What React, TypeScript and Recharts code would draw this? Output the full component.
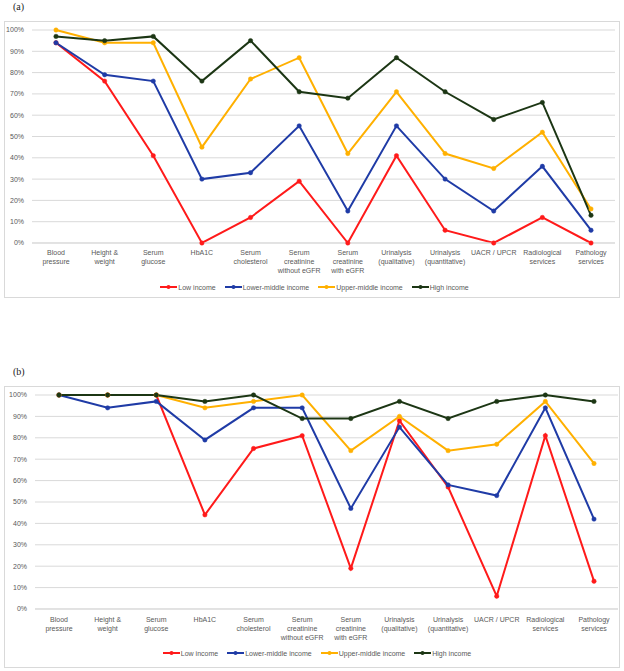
import React from "react";
import { LineChart, Line, XAxis, YAxis, CartesianGrid, Legend } from "recharts";

// Tick labels of the x axis, one array of lines per category
const categoryLines: string[][] = [
  ["Blood", "pressure"],
  ["Height &", "weight"],
  ["Serum", "glucose"],
  ["HbA1C"],
  ["Serum", "cholesterol"],
  ["Serum", "creatinine", "without eGFR"],
  ["Serum", "creatinine", "with eGFR"],
  ["Urinalysis", "(qualitative)"],
  ["Urinalysis", "(quantitative)"],
  ["UACR / UPCR"],
  ["Radiological", "services"],
  ["Pathology", "services"],
];
const categories = categoryLines.map((l) => l.join(" "));

const yTicks = [0, 10, 20, 30, 40, 50, 60, 70, 80, 90, 100];

// (a)
const lowA = [94, 76, 41, 0, 12, 29, 0, 41, 6, 0, 12, 0];
const lowerMidA = [94, 79, 76, 30, 33, 55, 15, 55, 30, 15, 36, 6];
const upperMidA = [100, 94, 94, 45, 77, 87, 42, 71, 42, 35, 52, 16];
const highA = [97, 95, 97, 76, 95, 71, 68, 87, 71, 58, 66, 13];

// (b)
const lowB = [100, 100, 100, 44, 75, 81, 19, 88, 57, 6, 81, 13];
const lowerMidB = [100, 94, 97, 79, 94, 94, 47, 85, 58, 53, 94, 42];
const upperMidB = [100, 100, 100, 94, 97, 100, 74, 90, 74, 77, 97, 68];
const highB = [100, 100, 100, 97, 100, 89, 89, 97, 89, 97, 100, 97];

const seriesNames = ["Low income", "Lower-middle income", "Upper-middle income", "High income"];
const seriesColors = ["#ff1a1a", "#1f3ba6", "#ffb000", "#1c3614"];

const FONT = "'Liberation Sans', Arial, sans-serif";
const TEXT = "#595959";
const GRID = "#d9d9d9";

function buildRows(series: number[][]) {
  return categories.map((c, i) => ({
    cat: c,
    s0: series[0][i],
    s1: series[1][i],
    s2: series[2][i],
    s3: series[3][i],
  }));
}

function CatTick({ x, y, payload, dy }: any) {
  const idx = categories.indexOf(payload.value);
  const lines = categoryLines[idx] || [payload.value];
  return (
    <text x={x} y={y + dy} textAnchor="middle" fill={TEXT} fontSize={7} fontFamily={FONT}>
      {lines.map((l, i) => (
        <tspan key={i} x={x} dy={i === 0 ? 0 : 9}>
          {l}
        </tspan>
      ))}
    </text>
  );
}

function LegendRow() {
  return (
    <div
      style={{
        display: "flex",
        justifyContent: "center",
        gap: 9,
        height: 16,
        alignItems: "center",
        fontFamily: FONT,
        fontSize: 7,
        color: TEXT,
        paddingLeft: 6,
      }}
    >
      {seriesNames.map((n, i) => (
        <div key={n} style={{ display: "flex", alignItems: "center" }}>
          <svg width={17} height={6} style={{ marginRight: 1 }}>
            <line x1={0} y1={3} x2={17} y2={3} stroke={seriesColors[i]} strokeWidth={2} />
            <circle cx={8.5} cy={3} r={2} fill={seriesColors[i]} />
          </svg>
          <span>{n}</span>
        </div>
      ))}
    </div>
  );
}

function Panel({
  label,
  top,
  height,
  series,
  margin,
  yWidth,
  tickDy,
}: {
  label: string;
  top: number;
  height: number;
  series: number[][];
  margin: { top: number; right: number; left: number; bottom: number };
  yWidth: number;
  tickDy: number;
}) {
  const rows = buildRows(series);
  return (
    <>
      <div
        style={{
          position: "absolute",
          left: 13,
          top: top - 20,
          fontFamily: "'Liberation Serif', 'Times New Roman', serif",
          fontSize: 10,
          color: "#222",
        }}
      >
        {label}
      </div>
      <div
        style={{
          position: "absolute",
          left: 4,
          top,
          width: 616,
          height,
          border: `1px solid ${GRID}`,
          boxSizing: "border-box",
          background: "#fff",
        }}
      >
        <LineChart width={614} height={height - 2} data={rows} margin={margin}>
          <CartesianGrid vertical={false} stroke={GRID} strokeWidth={1} />
          <XAxis
            dataKey="cat"
            interval={0}
            tickLine={false}
            axisLine={{ stroke: GRID }}
            tickSize={0}
            tickMargin={0}
            height={36}
            padding={{ left: 24, right: 24 }}
            tick={<CatTick dy={tickDy} />}
          />
          <YAxis
            domain={[0, 100]}
            ticks={yTicks}
            interval={0}
            width={yWidth}
            axisLine={false}
            tickLine={false}
            tickFormatter={(v) => `${v}%`}
            tick={{ fill: TEXT, fontSize: 7, fontFamily: FONT }}
          />
          <Legend verticalAlign="bottom" height={16} content={() => <LegendRow />} />
          {seriesNames.map((n, i) => (
            <Line
              key={n}
              type="linear"
              dataKey={`s${i}`}
              name={n}
              stroke={seriesColors[i]}
              strokeWidth={2}
              dot={{ r: 2.2, fill: seriesColors[i], stroke: seriesColors[i], strokeWidth: 0.5 }}
              isAnimationActive={false}
            />
          ))}
        </LineChart>
      </div>
    </>
  );
}

export default function App() {
  return (
    <div style={{ position: "absolute", left: 0, top: 0, width: 624, height: 671, background: "#fff" }}>
      <Panel
        label="(a)"
        top={21}
        height={277}
        series={[lowA, lowerMidA, upperMidA, highA]}
        margin={{ top: 8, right: 4, left: 3, bottom: 2 }}
        yWidth={24}
        tickDy={12}
      />
      <Panel
        label="(b)"
        top={386}
        height={282}
        series={[lowB, lowerMidB, upperMidB, highB]}
        margin={{ top: 8, right: 1, left: 5, bottom: 6 }}
        yWidth={25}
        tickDy={13}
      />
    </div>
  );
}
